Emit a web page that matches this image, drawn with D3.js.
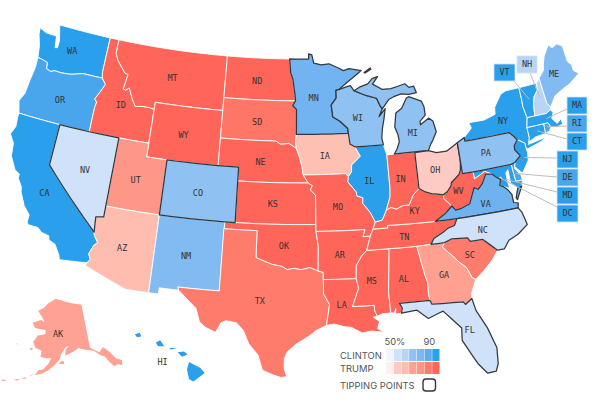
<!DOCTYPE html>
<html><head><meta charset="utf-8">
<script src="https://cdn.jsdelivr.net/npm/d3@7"></script>
<style>html,body{margin:0;padding:0;background:#fff}svg{display:block}</style></head>
<body><svg id="c" width="600" height="403"></svg>
<script>
const clinton = {WA:90,CA:90,NY:90,VT:90,IL:90,MA:90,MD:90,CT:90,NJ:90,DC:90,HI:90,OR:86,RI:86,DE:86,VA:80,MN:79,NM:75,ME:75,WI:70,MI:70,CO:70,PA:70,NH:63,NV:57,NC:57,FL:57};
const trump = {OH:56.7,IA:62,AZ:63.3,GA:71,AK:70,UT:75,SC:83,TX:83,SD:85,MT:90,ID:90,WY:90,ND:90,NE:90,KS:90,OK:90,MO:90,AR:90,LA:90,MS:90,AL:90,TN:90,KY:90,IN:90,WV:90};
const tippingPoints = ["NV","CO","MN","WI","MI","OH","PA","VA","NC","FL"];
const legendSteps = [50,56.7,63.3,70,76.7,83.3,90];
const clintonStops = ["#f0f6fe","#d0e3f9","#b7d4f6","#90c1f3","#7db8f2","#5eabee","#2a9fec"];
const trumpStops = ["#fff0ed","#fdcbc4","#ffbdb0","#ffa293","#ff9384","#ff7a6a","#ff6659"];
const calloutStates = ["VT","NH","MA","RI","CT","NJ","DE","MD","DC"];
// label anchor [lon,lat]
const labelAt = {WA:[-120.45,47.48],OR:[-120.4,43.85],CA:[-119.6,37.05],NV:[-116.4,39.35],ID:[-114.25,44.45],MT:[-109.4,47],WY:[-107.5,43],UT:[-111.5,39.3],AZ:[-111.7,34.3],CO:[-105.5,39],NM:[-106,34.4],ND:[-100.4,47.4],SD:[-100.2,44.4],NE:[-99.7,41.5],KS:[-98.4,38.5],OK:[-97.3,35.5],TX:[-99.3,31.5],MN:[-94.4,46.2],IA:[-93.4,42],MO:[-92.3,38.3],AR:[-92.3,34.8],LA:[-92.3,31.2],WI:[-89.9,44.6],IL:[-89.2,40],MS:[-89.6,32.8],AL:[-86.8,32.8],TN:[-86.4,35.8],KY:[-85.2,37.6],IN:[-86.2,40],OH:[-82.8,40.3],MI:[-84.5,43.2],PA:[-77.7,40.9],WV:[-80.9,38.6],VA:[-78.6,37.35],NC:[-79.3,35.5],SC:[-80.8,33.9],GA:[-83.3,32.7],FL:[-81.8,28.55],NY:[-75.4,42.9],ME:[-69.2,45.3],AK:[-153.7,64.1],HI:[-157.6,20.3]};
const calloutTarget = {VT:[-72.6,44],NH:[-71.5,43.9],MA:[-71.4,42.35],RI:[-71.55,41.75],CT:[-72.6,41.65],NJ:[-74.4,40],DE:[-75.5,39],MD:[-76.6,38.75],DC:[-77.03,38.9]};
const calloutBox = {VT:[494,64,21,17],NH:[517,56,20,17],MA:[567,97,20,17],RI:[567,115,20,17],CT:[567,133,20,17],NJ:[557,151,21,17],DE:[557,169,21,17],MD:[557,187,21,17],DC:[557,205,21,17]};
const calloutFrom = {VT:[513,80],NH:[530,73],MA:[567,109],RI:[567,126],CT:[567,139],NJ:[557,158],DE:[557,177],MD:[557,192],DC:[557,207]};
// state outlines, lon/lat
const outlines = {
WA:[[[-124.7,48.38],[-123.9,48.16],[-123.1,48.15],[-122.75,48.15],[-122.55,47.3],[-122.3,47.35],[-122.3,47.9],[-122.5,48.4],[-122.75,49],[-117.03,49],[-117.04,46.42],[-116.92,46],[-118.98,46],[-119.3,45.93],[-120.2,45.73],[-121.2,45.65],[-121.9,45.68],[-122.3,45.55],[-122.8,45.65],[-122.9,46.1],[-123.4,46.2],[-124,46.27],[-124.1,46.7],[-124.2,47.1],[-124.6,47.9]]],
OR:[[[-124,46.27],[-123.4,46.2],[-122.9,46.1],[-122.8,45.65],[-122.3,45.55],[-121.9,45.68],[-121.2,45.65],[-120.2,45.73],[-119.3,45.93],[-118.98,46],[-116.92,46],[-116.46,45.6],[-116.85,44.95],[-117.22,44.4],[-116.95,44.2],[-117.03,43.8],[-117.03,42],[-124.2,42],[-124.4,42.5],[-124.55,42.85],[-124.2,43.5],[-124.1,44.5],[-123.95,45.5]]],
CA:[[[-124.2,42],[-120,42],[-120,39],[-114.63,35],[-114.57,34.8],[-114.14,34.3],[-114.43,34.05],[-114.72,33.4],[-114.5,33],[-114.72,32.72],[-117.12,32.53],[-117.25,32.85],[-117.8,33.55],[-118.4,33.75],[-118.5,34.03],[-119.2,34.15],[-119.6,34.42],[-120.5,34.45],[-120.65,34.6],[-120.65,35.15],[-121.3,35.7],[-121.9,36.6],[-122,36.95],[-122.5,37.5],[-122.5,37.8],[-123,38],[-123.7,38.9],[-123.85,39.8],[-124.4,40.4],[-124.1,41],[-124.2,41.75]]],
NV:[[[-120,42],[-114.04,42],[-114.04,36.2],[-114.75,36.1],[-114.63,35],[-120,39]]],
ID:[[[-117.03,49],[-116.05,49],[-116.05,48],[-115.7,47.5],[-114.7,46.7],[-114.35,46.65],[-114.55,45.55],[-114.3,45.48],[-113.95,45.7],[-113.45,44.95],[-113,44.45],[-112.3,44.55],[-111.5,44.55],[-111.05,44.48],[-111.05,42],[-117.03,42],[-117.03,43.8],[-116.95,44.2],[-117.22,44.4],[-116.85,44.95],[-116.46,45.6],[-116.92,46],[-117.04,46.42]]],
MT:[[[-116.05,49],[-104.05,49],[-104.05,45],[-111.05,45],[-111.05,44.48],[-111.5,44.55],[-112.3,44.55],[-113,44.45],[-113.45,44.95],[-113.95,45.7],[-114.3,45.48],[-114.55,45.55],[-114.35,46.65],[-114.7,46.7],[-115.7,47.5],[-116.05,48]]],
WY:[[[-111.05,45],[-104.05,45],[-104.05,41],[-111.05,41]]],
UT:[[[-114.04,42],[-111.05,42],[-111.05,41],[-109.05,41],[-109.05,37],[-114.04,37]]],
CO:[[[-109.05,41],[-102.05,41],[-102.05,37],[-109.05,37]]],
AZ:[[[-114.04,37],[-109.05,37],[-109.05,31.33],[-111.07,31.33],[-114.81,32.5],[-114.72,32.72],[-114.5,33],[-114.72,33.4],[-114.43,34.05],[-114.14,34.3],[-114.57,34.8],[-114.63,35],[-114.75,36.1],[-114.04,36.2]]],
NM:[[[-109.05,37],[-103,37],[-103.04,32],[-106.62,32],[-106.53,31.78],[-108.2,31.78],[-108.2,31.33],[-109.05,31.33]]],
ND:[[[-104.05,49],[-97.23,49],[-97.1,48],[-96.85,47.5],[-96.6,46.3],[-96.56,45.94],[-104.05,45.94]]],
SD:[[[-104.05,45.94],[-96.56,45.94],[-96.85,45.6],[-96.45,45.3],[-96.45,43.5],[-96.55,43],[-96.45,42.49],[-97.2,42.85],[-98,42.77],[-98.5,43],[-104.05,43]]],
NE:[[[-104.05,43],[-98.5,43],[-98,42.77],[-97.2,42.85],[-96.45,42.49],[-96.1,41.8],[-95.9,41.2],[-95.77,40.58],[-95.31,40],[-102.05,40],[-102.05,41],[-104.05,41]]],
KS:[[[-102.05,40],[-95.31,40],[-94.9,39.8],[-95.1,39.5],[-94.61,39.1],[-94.62,37],[-102.05,37]]],
OK:[[[-103,37],[-94.62,37],[-94.62,36.5],[-94.43,35.4],[-94.48,33.64],[-95.2,33.9],[-96,33.75],[-96.6,33.85],[-97.2,33.75],[-97.7,33.98],[-98.5,34.1],[-99.2,34.3],[-100,34.56],[-100,36.5],[-103,36.5]]],
TX:[[[-103.04,36.5],[-100,36.5],[-100,34.56],[-99.2,34.3],[-98.5,34.1],[-97.7,33.98],[-97.2,33.75],[-96.6,33.85],[-96,33.75],[-95.2,33.9],[-94.48,33.64],[-94.04,33.55],[-94.04,32],[-93.55,31.2],[-93.7,30.5],[-93.85,29.7],[-94.7,29.35],[-95.3,28.95],[-96.4,28.35],[-97.1,27.8],[-97.35,27.3],[-97.35,26.6],[-97.15,25.96],[-97.6,25.9],[-98.3,26.1],[-99.1,26.4],[-99.5,27.5],[-100.3,28.3],[-100.8,29.25],[-101.4,29.77],[-102.3,29.88],[-102.7,29.7],[-103.1,28.98],[-104,29.3],[-104.5,29.65],[-104.9,30.6],[-106,31.4],[-106.53,31.78],[-106.62,32],[-103.04,32]]],
MN:[[[-97.23,49],[-95.15,49],[-95.15,49.38],[-94.8,49.3],[-94.6,48.7],[-93.8,48.55],[-92.95,48.62],[-92,48.3],[-91.4,48.07],[-90.8,48.2],[-89.5,48],[-91,47.25],[-92,46.7],[-92.3,46.65],[-92.3,46.1],[-92.85,45.6],[-92.75,45],[-92.75,44.75],[-92,44.4],[-91.25,43.85],[-91.22,43.5],[-96.45,43.5],[-96.45,45.3],[-96.85,45.6],[-96.56,45.94],[-96.6,46.3],[-96.85,47.5],[-97.1,48]]],
WI:[[[-92,46.7],[-91.2,46.87],[-90.75,46.95],[-90.4,46.57],[-89.1,46.14],[-88.1,45.9],[-87.8,45.35],[-87.6,45.1],[-88,44.55],[-87.3,45.1],[-87.5,44.4],[-87.75,43.7],[-87.9,43],[-87.8,42.49],[-90.64,42.5],[-91.1,42.7],[-91.22,43.5],[-91.25,43.85],[-92,44.4],[-92.75,44.75],[-92.75,45],[-92.85,45.6],[-92.3,46.1],[-92.3,46.65]]],
IA:[[[-96.45,43.5],[-91.22,43.5],[-91.1,42.7],[-90.64,42.5],[-90.15,41.8],[-91.05,41.2],[-91.1,40.7],[-91.42,40.38],[-91.7,40.6],[-95.77,40.58],[-95.9,41.2],[-96.1,41.8],[-96.45,42.49],[-96.55,43]]],
MO:[[[-95.77,40.58],[-91.7,40.6],[-91.42,40.38],[-91.5,40],[-90.75,39.25],[-90.7,38.95],[-90.15,38.8],[-90.2,38.4],[-89.55,37.7],[-89.15,37],[-89.4,36.5],[-89.7,36],[-90.37,36],[-90.15,36.5],[-94.62,36.5],[-94.62,37],[-94.61,39.1],[-95.1,39.5],[-94.9,39.8],[-95.31,40]]],
AR:[[[-94.62,36.5],[-90.15,36.5],[-90.37,36],[-89.7,36],[-89.9,35.5],[-90.1,35],[-90.6,34.6],[-91.1,33.95],[-91.17,33],[-94.04,33.02],[-94.04,33.55],[-94.48,33.64],[-94.43,35.4]]],
LA:[[[-94.04,33.02],[-91.17,33],[-91,32.3],[-91.6,31],[-89.75,31],[-89.75,30.6],[-89.55,30.2],[-89.9,30.15],[-89.4,29.8],[-89.6,29.3],[-89.1,29],[-90.1,29.15],[-90.9,29.05],[-91.8,29.5],[-92.3,29.55],[-93.2,29.78],[-93.85,29.7],[-93.7,30.5],[-93.55,31.2],[-94.04,32]]],
MS:[[[-90.1,35],[-88.2,35],[-88.1,34.9],[-88.45,31.9],[-88.4,30.35],[-89.1,30.35],[-89.55,30.2],[-89.75,30.6],[-89.75,31],[-91.6,31],[-91,32.3],[-91.17,33],[-91.1,33.95],[-90.6,34.6]]],
AL:[[[-88.2,35],[-85.6,34.98],[-85.18,32.87],[-85,32.3],[-85.05,31.55],[-85,31],[-87.6,31],[-87.4,30.65],[-87.5,30.28],[-88,30.25],[-87.95,30.65],[-88.1,30.35],[-88.4,30.35],[-88.45,31.9],[-88.1,34.9]]],
TN:[[[-89.7,36],[-89.4,36.5],[-88.05,36.5],[-88.07,36.68],[-83.68,36.6],[-81.68,36.59],[-82,36.12],[-82.6,36],[-83.1,35.75],[-84,35.4],[-84.32,35],[-85.6,34.98],[-88.2,35],[-90.1,35],[-89.9,35.5]]],
KY:[[[-89.4,36.5],[-89.15,37],[-88.5,37.1],[-88.05,37.8],[-87.6,37.95],[-87.1,37.8],[-86.5,38],[-85.9,38],[-85.4,38.7],[-84.8,39.1],[-84.25,38.8],[-83.7,38.63],[-82.6,38.42],[-82.6,38.15],[-81.97,37.54],[-82.7,37.05],[-83.68,36.6],[-88.07,36.68],[-88.05,36.5]]],
IL:[[[-90.64,42.5],[-87.8,42.49],[-87.55,41.75],[-87.53,39.35],[-87.6,38.7],[-88.05,37.8],[-88.5,37.1],[-89.15,37],[-89.55,37.7],[-90.2,38.4],[-90.15,38.8],[-90.7,38.95],[-90.75,39.25],[-91.5,40],[-91.42,40.38],[-91.1,40.7],[-91.05,41.2],[-90.15,41.8]]],
IN:[[[-87.55,41.75],[-86.8,41.76],[-84.8,41.76],[-84.8,39.1],[-85.4,38.7],[-85.9,38],[-86.5,38],[-87.1,37.8],[-87.6,37.95],[-88.05,37.8],[-87.6,38.7],[-87.53,39.35]]],
OH:[[[-84.8,41.7],[-83.45,41.73],[-82.7,41.5],[-81.7,41.5],[-80.52,41.98],[-80.52,40.64],[-80.65,40],[-80.85,39.7],[-81.7,39.2],[-81.75,39],[-82.2,38.6],[-82.6,38.42],[-83.7,38.63],[-84.25,38.8],[-84.8,39.1]]],
MI:[[[-84.8,41.76],[-86.8,41.76],[-86.5,42.1],[-86.2,42.6],[-86.25,43.1],[-86.5,43.7],[-86.25,44.7],[-85.6,45],[-85,45.7],[-84.75,45.78],[-83.5,45.35],[-83.3,44.9],[-83.3,44.3],[-83.9,43.9],[-83.9,43.65],[-83,44.05],[-82.6,43.8],[-82.42,43],[-82.9,42.4],[-83.1,42.2],[-83.45,41.73]],[[-90.4,46.57],[-89.8,46.8],[-88.9,47],[-88.4,47.35],[-87.8,47.47],[-88.4,46.95],[-87.4,46.5],[-86.5,46.5],[-85,46.75],[-84.6,46.45],[-84.1,46.5],[-83.9,46],[-84.7,45.95],[-85.5,46.05],[-86.3,45.9],[-86.8,45.75],[-87.6,45.1],[-87.8,45.35],[-88.1,45.9],[-89.1,46.14]],[[-89.2,47.85],[-88.5,48.15],[-88.45,48.05],[-89.1,47.8]]],
PA:[[[-80.52,41.98],[-79.76,42.27],[-79.76,42],[-75.35,42],[-75.05,41.75],[-74.7,41.36],[-75.1,41],[-75.15,40.7],[-74.75,40.2],[-75.4,39.8],[-75.79,39.72],[-80.52,39.72],[-80.52,40.64]]],
NY:[[[-79.76,42.27],[-78.9,42.85],[-79.05,43.27],[-77.5,43.25],[-76.3,43.5],[-76.2,44],[-75.3,44.85],[-74.7,45],[-73.35,45],[-73.35,44.2],[-73.4,43.6],[-73.25,42.75],[-73.5,42.05],[-73.5,41.3],[-73.65,41],[-73.75,40.85],[-72.6,40.98],[-72,41.05],[-72.4,40.85],[-73.9,40.55],[-74.05,40.65],[-74.05,41],[-74.7,41.36],[-75.05,41.75],[-75.35,42],[-79.76,42]]],
VT:[[[-73.35,45],[-71.5,45],[-71.55,44.5],[-72.05,44.1],[-72.3,43.6],[-72.46,42.73],[-73.25,42.75],[-73.4,43.6],[-73.35,44.2]]],
NH:[[[-71.5,45],[-71.08,45.3],[-70.98,43.4],[-70.7,43.07],[-70.82,42.87],[-71.3,42.7],[-72.46,42.73],[-72.3,43.6],[-72.05,44.1],[-71.55,44.5]]],
ME:[[[-71.08,45.3],[-70.4,45.8],[-70.25,46.2],[-70,46.7],[-69.23,47.46],[-68.9,47.18],[-68.3,47.36],[-67.8,47.07],[-67.78,45.9],[-67.45,45.6],[-67.45,45.15],[-67,44.85],[-68.2,44.3],[-69,44.1],[-70,43.75],[-70.7,43.07],[-70.98,43.4]]],
MA:[[[-73.5,42.05],[-71.8,42.02],[-71.38,42.02],[-71.2,41.67],[-70.65,41.55],[-70,41.65],[-70.05,42.05],[-70.5,41.8],[-70.9,42.25],[-70.6,42.65],[-70.82,42.87],[-71.3,42.7],[-73.25,42.75]]],
CT:[[[-73.5,42.05],[-71.8,42.02],[-71.85,41.32],[-72.9,41.25],[-73.65,41],[-73.5,41.3]]],
RI:[[[-71.8,42.02],[-71.38,42.02],[-71.2,41.67],[-71.4,41.45],[-71.85,41.32]]],
NJ:[[[-74.7,41.36],[-74.05,41],[-74.05,40.65],[-74,40.3],[-74.1,39.75],[-74.9,38.93],[-75.5,39.5],[-75.4,39.8],[-74.75,40.2],[-75.15,40.7],[-75.1,41]]],
DE:[[[-75.79,39.72],[-75.4,39.8],[-75.55,39.4],[-75.1,38.8],[-75.05,38.45],[-75.7,38.46]]],
MD:[[[-79.48,39.72],[-75.79,39.72],[-75.7,38.46],[-75.05,38.45],[-75.25,38.03],[-75.65,37.95],[-75.9,38.2],[-76.2,38.4],[-76.2,39.4],[-76.45,39.2],[-76.45,38.4],[-76.35,38.05],[-77,38.3],[-77.25,38.4],[-77.05,38.8],[-77.5,39.1],[-77.75,39.32],[-78.4,39.6],[-79.48,39.2]]],
DC:[[[-77.12,38.93],[-77.04,39],[-76.91,38.89],[-77.04,38.79]]],
VA:[[[-83.68,36.6],[-81.68,36.59],[-76,36.55],[-75.9,36.9],[-76.3,37],[-76.3,37.6],[-76.6,38],[-77,38.3],[-77.25,38.4],[-77.05,38.8],[-77.5,39.1],[-77.75,39.32],[-78.35,39.4],[-78.85,38.75],[-79.3,38.42],[-79.65,38.6],[-80.3,37.5],[-81.2,37.25],[-81.68,37.2],[-81.97,37.54],[-82.7,37.05]],[[-75.65,37.95],[-75.25,38.03],[-75.9,37.15],[-75.98,37.3]]],
WV:[[[-80.52,40.64],[-80.52,39.72],[-79.48,39.72],[-79.48,39.2],[-78.4,39.6],[-77.75,39.32],[-78.35,39.4],[-78.85,38.75],[-79.3,38.42],[-79.65,38.6],[-80.3,37.5],[-81.2,37.25],[-81.68,37.2],[-81.97,37.54],[-82.6,38.15],[-82.6,38.42],[-82.2,38.6],[-81.75,39],[-81.7,39.2],[-80.85,39.7],[-80.65,40]]],
NC:[[[-84.32,35],[-84,35.4],[-83.1,35.75],[-82.6,36],[-82,36.12],[-81.68,36.59],[-76,36.55],[-75.75,36.2],[-75.5,35.25],[-76.5,34.7],[-77.4,34.4],[-77.95,33.85],[-78.55,33.85],[-79.67,34.8],[-80.8,34.82],[-81,35.1],[-82.4,35.2],[-83.1,35]]],
SC:[[[-83.1,35],[-82.4,35.2],[-81,35.1],[-80.8,34.82],[-79.67,34.8],[-78.55,33.85],[-79.2,33.2],[-80,32.6],[-80.85,32.05],[-81.15,32.2],[-81.5,33],[-82,33.4],[-82.6,34],[-83.35,34.7]]],
GA:[[[-85.6,34.98],[-84.32,35],[-83.1,35],[-83.35,34.7],[-82.6,34],[-82,33.4],[-81.5,33],[-81.15,32.2],[-80.85,32.05],[-81.4,31.1],[-81.45,30.72],[-82.05,30.36],[-82.2,30.57],[-84.86,30.7],[-85,31],[-85.05,31.55],[-85,32.3],[-85.18,32.87]]],
FL:[[[-87.6,31],[-85,31],[-84.86,30.7],[-82.2,30.57],[-82.05,30.36],[-81.45,30.72],[-81.25,29.8],[-80.55,28.45],[-80.05,26.9],[-80.15,25.75],[-80.4,25.2],[-81.1,25.15],[-81.75,25.95],[-82.1,26.6],[-82.75,27.8],[-82.65,28.7],[-83.4,29.5],[-84,30.1],[-84.35,30],[-85.3,29.7],[-86.2,30.4],[-87.5,30.28],[-87.4,30.65]]],
AK:[[[-141,69.65],[-141,60.3],[-137.5,58.9],[-135.5,59.8],[-133.5,58.4],[-131.8,56.6],[-130,55.9],[-130.5,54.8],[-131.8,55.4],[-133.5,55.2],[-134.5,56.2],[-136,57.8],[-137.5,58.3],[-139.8,59.55],[-143,60],[-146,60.6],[-148,60],[-149.5,59.7],[-151.8,59.2],[-151.5,60.5],[-150,61.2],[-151.5,61],[-153.5,59.5],[-154,58.5],[-156.5,57],[-158.5,56],[-161,55.2],[-163.3,54.7],[-162,55.9],[-160.5,56.1],[-158.5,57.5],[-157.5,58.7],[-159,58.5],[-162,58.7],[-161.8,60],[-164.7,60.5],[-166,61.6],[-165,62.6],[-164.5,63.1],[-161,63.6],[-161,64.5],[-163,64.5],[-166.5,64.6],[-168,65.6],[-164,66.5],[-162,66.1],[-163.8,67.2],[-166.5,68.3],[-163.2,69.2],[-161,70.3],[-156.6,71.35],[-152,70.85],[-146,70.15]],[[-154.6,57.4],[-152.4,57.5],[-152.3,58],[-153.3,58.1]],[[-167,60.2],[-165.8,60.3],[-165.7,59.9],[-166.7,59.85]],[[-173,60.6],[-172.3,60.4],[-172.9,60.3]],[[-164.9,54.6],[-163.4,54.85],[-164.9,54.45]],[[-167.9,53.6],[-166.2,54],[-166.5,53.5]],[[-170.5,52.9],[-168.5,53.4],[-169,52.9]],[[-174.5,52.3],[-172.5,52.4],[-174,52]],[[-178,51.9],[-176,52],[-177.5,51.65]]],
HI:[[[-155.9,20.25],[-155.1,19.85],[-154.8,19.5],[-155.6,18.95],[-155.9,19.1],[-156.05,19.75]],[[-156.7,20.9],[-156.25,20.95],[-156,20.75],[-156.4,20.6]],[[-157.3,21.2],[-156.75,21.15],[-157.2,21.08]],[[-158.25,21.55],[-157.95,21.7],[-157.65,21.3],[-158.1,21.3]],[[-159.75,22.1],[-159.4,22.2],[-159.3,21.95],[-159.6,21.9]]]
};

const svg = d3.select("#c");
const main = d3.geoAlbers().rotate([96,0]).center([-0.6,38.7]).parallels([29.5,45.5]).scale(788).translate([294.5,201]);
const ak = d3.geoConicEqualArea().rotate([154,0]).center([-2,58.5]).parallels([55,65]).scale(270).translate([55,359]);
const hi = d3.geoConicEqualArea().rotate([157,0]).center([-3,19.9]).parallels([8,18]).scale(860).translate([131,367]);
const proj = s => s==="AK"?ak:s==="HI"?hi:main;

const domain=[50,56.7,63.3,70,76.7,83.3,90];
const blues=d3.scaleLinear().domain(domain).range(clintonStops).clamp(true);
const reds=d3.scaleLinear().domain(domain).range(trumpStops).clamp(true);
const colorOf=s=> s in clinton?blues(clinton[s]):reds(trump[s]);

// step along parallels and meridians so straight borders follow the conic curve
function dense(ring){
  const out=[];
  ring.forEach((p,i)=>{const q=ring[(i+1)%ring.length];
    const n=Math.max(1,Math.ceil(Math.abs(q[0]-p[0])));
    for(let k=0;k<n;k++) out.push([p[0]+(q[0]-p[0])*k/n,p[1]+(q[1]-p[1])*k/n]);});
  return out;
}
const line=d3.line();
const pathOf=s=>outlines[s].map(r=>line(dense(r).map(proj(s)))+"Z").join("");
const names=Object.keys(outlines);
const isTip=s=>tippingPoints.includes(s);

svg.append("g").selectAll("path").data(names.filter(s=>!isTip(s))).join("path")
  .attr("d",pathOf).attr("fill",colorOf).attr("stroke",s=>(s==="AK"||s==="HI")?"none":"#fff").attr("stroke-width",0.9).attr("stroke-linejoin","round");
svg.append("g").selectAll("path").data(tippingPoints).join("path")
  .attr("d",pathOf).attr("fill",colorOf).attr("stroke","#33383c").attr("stroke-width",1.25).attr("stroke-linejoin","round");

const MONO="'DejaVu Sans Mono',monospace";
svg.append("g").selectAll("text").data(Object.keys(labelAt)).join("text")
  .attr("transform",s=>{const p=proj(s)(labelAt[s]);return `translate(${p[0]-2.5},${p[1]+1})`;}).attr("text-anchor","middle").attr("dy","0.35em")
  .attr("font-family",MONO).attr("font-size",8.5).attr("fill","#333").text(s=>s);

// callouts
const co=svg.append("g");
co.selectAll("line").data(calloutStates).join("line")
  .attr("x1",s=>calloutFrom[s][0]).attr("y1",s=>calloutFrom[s][1])
  .attr("x2",s=>main(calloutTarget[s])[0]).attr("y2",s=>main(calloutTarget[s])[1])
  .attr("stroke","#bdbdbd").attr("stroke-width",1);
co.selectAll("rect").data(calloutStates).join("rect")
  .attr("x",s=>calloutBox[s][0]).attr("y",s=>calloutBox[s][1]).attr("width",s=>calloutBox[s][2]).attr("height",s=>calloutBox[s][3])
  .attr("fill",colorOf).attr("stroke","#cfe4f8").attr("stroke-width",0.8);
co.selectAll("text").data(calloutStates).join("text")
  .attr("x",s=>calloutBox[s][0]+calloutBox[s][2]/2).attr("y",s=>calloutBox[s][1]+calloutBox[s][3]/2).attr("dy","0.35em")
  .attr("text-anchor","middle").attr("font-family",MONO).attr("font-size",8.5).attr("fill","#333").text(s=>s);

// legend
const lg=svg.append("g").attr("font-family","Inter,sans-serif").attr("font-size",9.4).attr("fill","#555");
const lx=d3.scaleBand().domain(legendSteps).range([386,439.5]).paddingInner(0.06);
lg.selectAll("rect.c").data(legendSteps).join("rect").attr("class","c").attr("x",d=>lx(d)).attr("y",349).attr("width",lx.bandwidth()).attr("height",12).attr("fill",d=>blues(d));
lg.selectAll("rect.t").data(legendSteps).join("rect").attr("class","t").attr("x",d=>lx(d)).attr("y",362).attr("width",lx.bandwidth()).attr("height",12).attr("fill",d=>reds(d));
lg.append("text").attr("x",384.5).attr("y",345).text("50%");
lg.append("text").attr("x",423.5).attr("y",345).text("90");
lg.append("text").attr("x",340).attr("y",359).text("CLINTON");
lg.append("text").attr("x",340).attr("y",372).text("TRUMP");
lg.append("text").attr("x",340).attr("y",389).text("TIPPING POINTS");
lg.append("rect").attr("x",423).attr("y",379).attr("width",12.5).attr("height",12).attr("rx",3).attr("fill","#fff").attr("stroke","#33383c").attr("stroke-width",1.4);
</script></body></html>
